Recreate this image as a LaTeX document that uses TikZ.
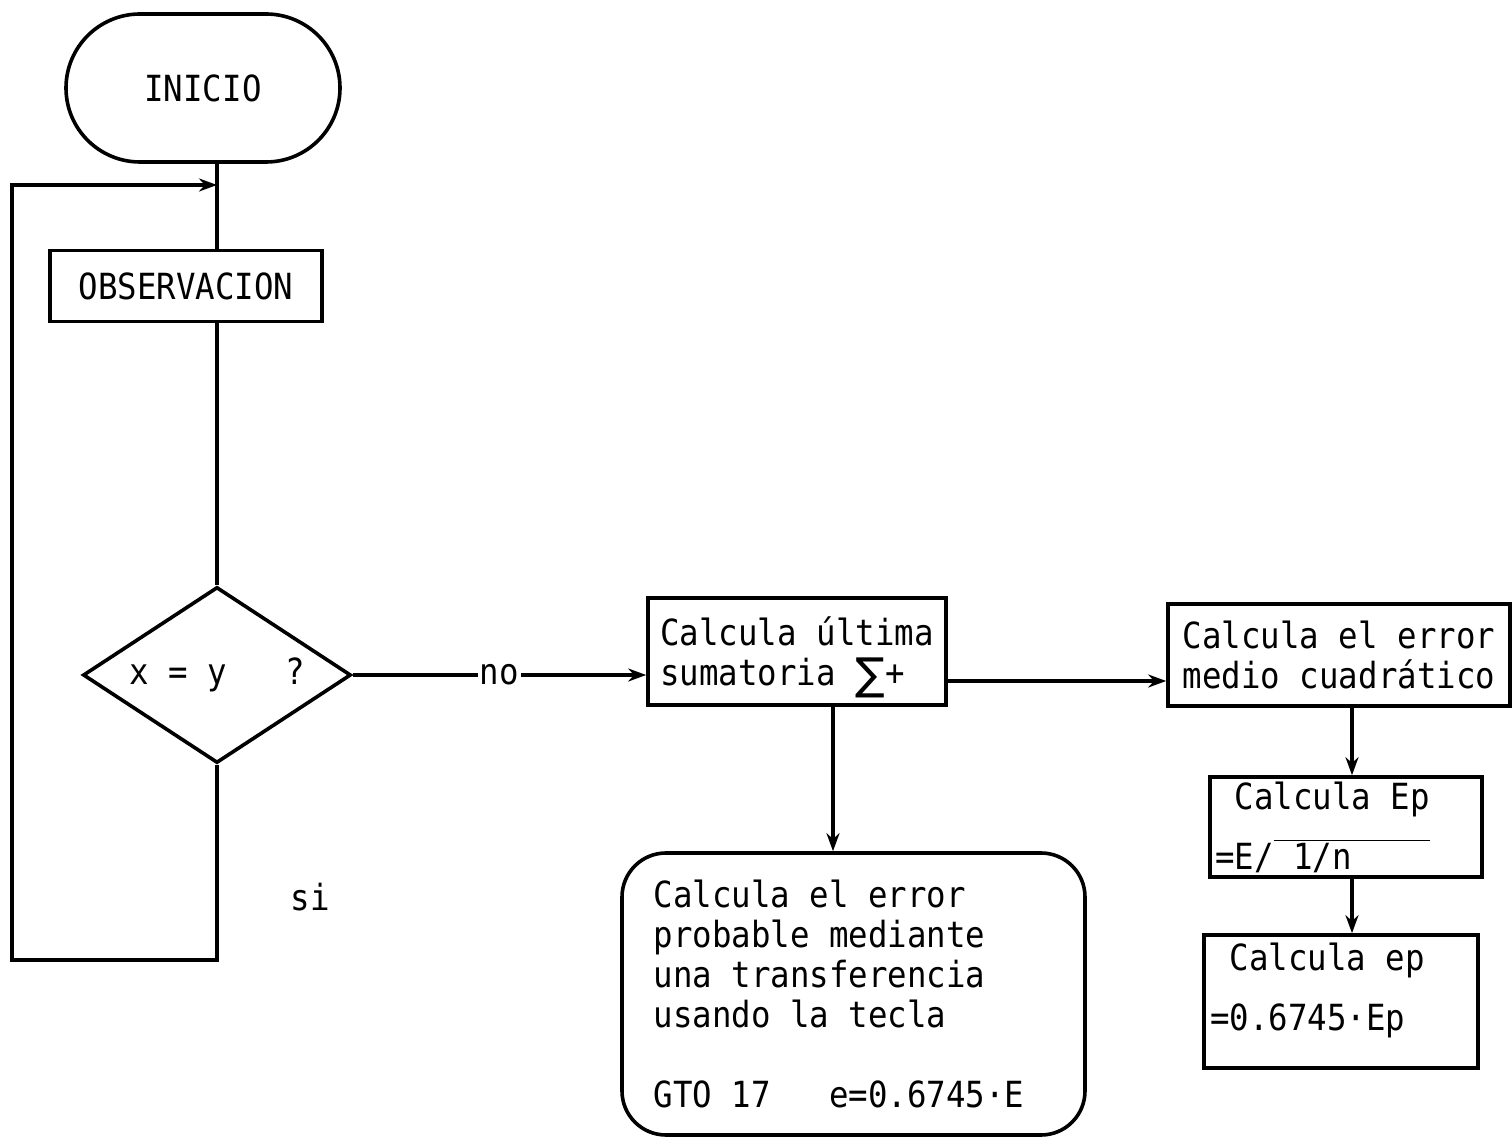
\documentclass[tikz,border=0pt]{standalone}
\usepackage{fontspec}
\setmonofont[FakeStretch=0.9]{DejaVu Sans Mono}
\newfontfamily\symfam{DejaVu Sans}
\usetikzlibrary{shapes.geometric,shapes.misc,arrows.meta}
\begin{document}
\begin{tikzpicture}[x=0.5pt,y=-0.5pt,
  font=\ttfamily\fontsize{18}{20}\selectfont,
  line width=1.8pt,
  arr/.style={-{Stealth[length=9pt,width=6.5pt]}},
  box/.style={draw,rectangle,inner sep=0pt,align=left},
  wide/.style={font=\ttfamily\fontsize{18}{30}\selectfont},
]
\useasboundingbox (0,0) rectangle (1512,1138);
% nodes
\node[draw,rounded rectangle,minimum width=137pt,minimum height=74pt,inner sep=0pt] (inicio) at (203,88) {INICIO};
\node[box,minimum width=136pt,minimum height=35.5pt] (obs) at (186,286) {OBSERVACION};
\node[draw,diamond,minimum width=134pt,minimum height=88pt,inner sep=0pt] (dia) at (217,675) {\makebox[0pt]{x = y~~~?}};
\node[box,minimum width=149pt,minimum height=53.5pt] (box1) at (797,651.5) {Calcula última\\sumatoria \smash{\raisebox{-2pt}{\symfam\fontsize{22}{20}\selectfont ∑}}+};
\node[box,minimum width=171pt,minimum height=51pt] (box2) at (1339,655) {Calcula el error\\medio cuadrático};
\node[box,wide,minimum width=136pt,minimum height=50pt,text width=131pt] (epbig) at (1346,827) {\spaceskip=0pt\relax~Calcula Ep\\=E/$\overline{\mbox{~1/n~~~~}}$};
\node[box,wide,minimum width=137pt,minimum height=66.5pt,text width=131pt] (epsmall) at (1341,1001.5) {\spaceskip=0pt\relax~Calcula ep\\=0.6745·Ep\rule[-15pt]{0pt}{1pt}};
\node[draw,rectangle,rounded corners=22pt,inner sep=0pt,align=left,minimum width=231.5pt,minimum height=141pt,text width=200pt] (rbox) at (853.5,994) {\spaceskip=0pt\relax Calcula el error\\probable mediante\\una transferencia\\usando la tecla\\[20pt]GTO 17~~~e=0.6745·E};
\node (si) at (310,897) {si};
% coordinates
\coordinate (lt) at (217,185);
\coordinate (lb) at (217,960);
\coordinate (ll) at (12,960);
\coordinate (lu) at (12,185);
\coordinate (c1) at (833,0);
\coordinate (c2) at (0,681);
\coordinate (c3) at (1352,0);
% connectors
\draw (inicio.south -| lt) -- (obs.north -| lt);
\draw (obs.south -| lt) -- (dia.north);
\draw[arr] (dia.south) -- (lb) -- (ll) -- (lu) -- (lt);
\draw[arr] (dia.east) -- node[fill=white,inner sep=1pt] {no} (dia.east -| box1.west);
\draw[arr] (box1.south -| c1) -- (rbox.north -| c1);
\draw[arr] (box1.east |- c2) -- (box2.west |- c2);
\draw[arr] (box2.south -| c3) -- (epbig.north -| c3);
\draw[arr] (epbig.south -| c3) -- (epsmall.north -| c3);
\end{tikzpicture}
\end{document}
